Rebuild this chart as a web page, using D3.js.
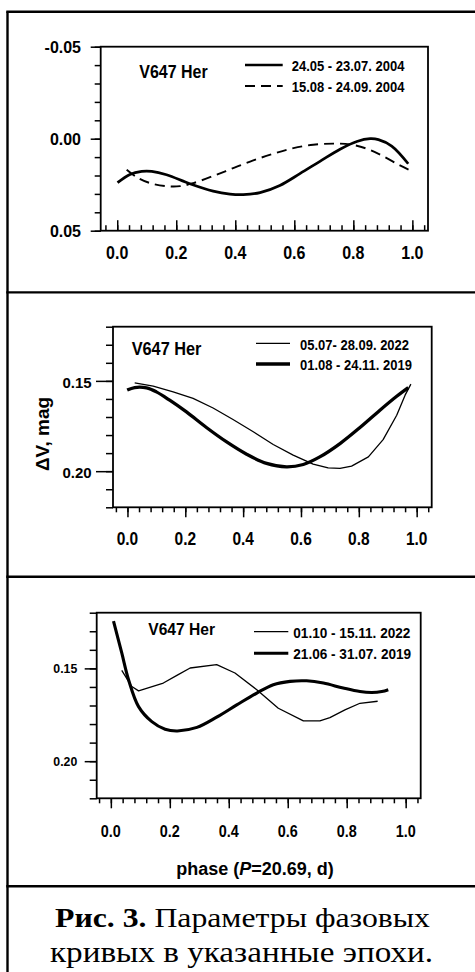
<!DOCTYPE html>
<html>
<head>
<meta charset="utf-8">
<script src="https://cdn.jsdelivr.net/npm/d3@7"></script>
<style>
  html, body { margin: 0; padding: 0; background: #fff; }
  svg { display: block; }
</style>
</head>
<body>
<svg id="chart" width="475" height="972"></svg>
<script>
// ---------------- DATA ----------------
const starName = "V647 Her";
const xMajorTicks = [0, 0.2, 0.4, 0.6, 0.8, 1.0];
const xTickLabels = ["0.0", "0.2", "0.4", "0.6", "0.8", "1.0"];
const xMinorTicks = d3.range(-0.04, 1.05, 0.04).map(v => +v.toFixed(2));

// Panel 1 (2004)
const p1YMajor = [-0.05, 0.00, 0.05];
const p1YLabels = ["-0.05", "0.00", "0.05"];
const p1YMinor = d3.range(-5, 6).map(i => i / 100);
const p1SeriesNames = ["24.05 - 23.07. 2004", "15.08 - 24.09. 2004"];
const p1SolidPhase = [0.001, 0.043, 0.083, 0.117, 0.167, 0.246, 0.325, 0.382, 0.427, 0.484, 0.551, 0.619, 0.687, 0.755, 0.812, 0.857, 0.885, 0.930, 0.986];
const p1SolidMag   = [0.0239, 0.0194, 0.0178, 0.0178, 0.0196, 0.0245, 0.0285, 0.0301, 0.0304, 0.0293, 0.0254, 0.0190, 0.0123, 0.0057, 0.0015, 0.0000, 0.0005, 0.0040, 0.0136];
const p1DashPhase  = [0.032, 0.066, 0.111, 0.167, 0.213, 0.258, 0.325, 0.393, 0.461, 0.529, 0.597, 0.664, 0.732, 0.789, 0.845, 0.902, 0.958, 0.992];
const p1DashMag    = [0.0169, 0.0209, 0.0241, 0.0258, 0.0258, 0.0241, 0.0203, 0.0160, 0.0118, 0.0082, 0.0051, 0.0033, 0.0027, 0.0031, 0.0054, 0.0096, 0.0145, 0.0172];

// Panel 2 (2022 vs 2019)
const p23YMajor = [0.15, 0.20];
const p23YLabels = ["0.15", "0.20"];
const p23YMinor = d3.range(12, 23).map(i => i / 100);
const p2SeriesNames = ["05.07- 28.09. 2022", "01.08 - 24.11. 2019"];
const p2ThinPhase  = [0.025, 0.089, 0.158, 0.227, 0.296, 0.365, 0.435, 0.504, 0.573, 0.642, 0.694, 0.735, 0.775, 0.833, 0.884, 0.931, 0.960, 0.980];
const p2ThinMag    = [0.1511, 0.1529, 0.1561, 0.1597, 0.1650, 0.1714, 0.1782, 0.1852, 0.1911, 0.1961, 0.1982, 0.1985, 0.1972, 0.1921, 0.1825, 0.1690, 0.1579, 0.1518];
const p2ThickPhase = [-0.001, 0.025, 0.066, 0.100, 0.146, 0.204, 0.273, 0.343, 0.412, 0.481, 0.550, 0.608, 0.665, 0.735, 0.804, 0.873, 0.931, 0.971];
const p2ThickMag   = [0.1551, 0.1537, 0.1539, 0.1561, 0.1607, 0.1672, 0.1758, 0.1838, 0.1906, 0.1957, 0.1976, 0.1963, 0.1921, 0.1847, 0.1758, 0.1662, 0.1585, 0.1537];

// Panel 3 (2022 vs 2019)
const p3SeriesNames = ["01.10 - 15.11. 2022", "21.06 - 31.07. 2019"];
const p3ThinPhase  = [0.037, 0.071, 0.094, 0.178, 0.224, 0.269, 0.359, 0.421, 0.495, 0.568, 0.653, 0.709, 0.743, 0.794, 0.845, 0.905];
const p3ThinMag    = [0.1511, 0.1598, 0.1621, 0.1579, 0.1538, 0.1498, 0.1480, 0.1525, 0.1615, 0.1715, 0.1783, 0.1783, 0.1765, 0.1724, 0.1688, 0.1677];
const p3ThickPhase = [0.009, 0.037, 0.060, 0.094, 0.139, 0.184, 0.226, 0.292, 0.359, 0.427, 0.495, 0.551, 0.608, 0.664, 0.721, 0.788, 0.845, 0.885, 0.919, 0.941];
const p3ThickMag   = [0.1245, 0.1417, 0.1561, 0.1706, 0.1787, 0.1828, 0.1837, 0.1818, 0.1763, 0.1697, 0.1633, 0.1588, 0.1570, 0.1567, 0.1579, 0.1606, 0.1625, 0.1630, 0.1625, 0.1615];

const yAxisTitle = "ΔV, mag";
const captionBold = "Рис. 3.";
const captionRest1 = " Параметры фазовых";
const captionLine2 = "кривых в указанные эпохи.";

// ---------------- DRAWING ----------------
const svg = d3.select("#chart");
const SANS = "'Liberation Sans', Arial, sans-serif";
const SERIF = "'Liberation Serif', 'Times New Roman', serif";

function label(g, str, x, y, o = {}) {
  const t = g.append("text")
    .attr("transform", `translate(${x},${y}) rotate(${o.rot || 0}) scale(${o.sx || 1},${o.sy || 1})`)
    .attr("font-family", o.family || SANS)
    .attr("font-weight", o.weight || "bold")
    .attr("font-size", o.size || 14)
    .attr("text-anchor", o.anchor || "start")
    .attr("fill", "#000");
  if (o.dy) t.attr("dy", o.dy);
  t.text(str);
  return t;
}

// Outer frame
const frame = svg.append("g").attr("stroke", "#000").attr("stroke-width", 2.4);
frame.append("line").attr("x1", 7.5).attr("x2", 7.5).attr("y1", 11.5).attr("y2", 972);
[11.7, 292.4, 576.8, 886.3].forEach(yy =>
  frame.append("line").attr("x1", 6.3).attr("x2", 475).attr("y1", yy).attr("y2", yy));

function panel(cfg) {
  const g = svg.append("g");
  const x = d3.scaleLinear().domain(cfg.xDomain).range([cfg.left, cfg.right]);
  const y = d3.scaleLinear().domain(cfg.yDomain).range([cfg.top, cfg.bottom]);

  const yMin = g.append("g").attr("transform", `translate(${cfg.left},0)`)
    .call(d3.axisLeft(y).tickValues(cfg.yMinor).tickSize(cfg.yMinorLen).tickSizeOuter(0).tickFormat(""));
  const yMaj = g.append("g").attr("transform", `translate(${cfg.left},0)`)
    .call(d3.axisLeft(y).tickValues(cfg.yMajor).tickSize(cfg.yMajorLen).tickSizeOuter(0).tickFormat(""));
  const xAxisFn = cfg.xInside ? d3.axisTop : d3.axisBottom;
  const xMin = g.append("g").attr("transform", `translate(0,${cfg.bottom})`)
    .call(xAxisFn(x).tickValues(xMinorTicks).tickSize(cfg.xMinorLen).tickSizeOuter(0).tickFormat(""));
  const xMaj = g.append("g").attr("transform", `translate(0,${cfg.bottom})`)
    .call(xAxisFn(x).tickValues(xMajorTicks).tickSize(cfg.xMajorLen).tickSizeOuter(0).tickFormat(""));
  [yMin, yMaj, xMin, xMaj].forEach(a => {
    a.select(".domain").remove();
    a.selectAll("line").attr("stroke", "#000").attr("stroke-width", 1.5);
  });

  g.append("rect").attr("x", cfg.left).attr("y", cfg.top)
    .attr("width", cfg.right - cfg.left).attr("height", cfg.bottom - cfg.top)
    .attr("fill", "none").attr("stroke", "#000").attr("stroke-width", 1.8);

  cfg.yMajor.forEach((v, i) => label(g, cfg.yLabels[i], cfg.left - cfg.yLabelGap, y(v) + cfg.yLabelShift,
    { size: cfg.yLabelSize, sy: cfg.yLabelSy, anchor: "end", dy: "0.358em" }));
  xMajorTicks.forEach((v, i) => label(g, xTickLabels[i], x(v), cfg.xLabelBase,
    { size: cfg.xLabelSize, sy: cfg.xLabelSy, anchor: "middle" }));

  label(g, starName, cfg.nameX, cfg.nameBase, { size: cfg.nameSize, sy: cfg.nameSy });

  cfg.series.forEach(s => {
    const pts = s.phase.map((p, i) => [p, s.mag[i]]);
    const line = d3.line().x(d => x(d[0])).y(d => y(d[1])).curve(s.curve);
    g.append("path").datum(pts).attr("d", line)
      .attr("fill", "none").attr("stroke", "#000")
      .attr("stroke-width", s.width).attr("stroke-dasharray", s.dash || null)
      .attr("stroke-linejoin", "round");
    g.append("line").attr("x1", cfg.legX1).attr("x2", cfg.legX2).attr("y1", s.legY).attr("y2", s.legY)
      .attr("stroke", "#000").attr("stroke-width", s.width).attr("stroke-dasharray", s.dash || null);
    label(g, s.name, cfg.legTextX, s.legBase, { size: cfg.legSize, sy: cfg.legSy });
  });
  return { g, x, y };
}

// Panel 1
panel({
  left: 100.7, right: 428, top: 46.7, bottom: 230.7,
  xDomain: [-0.056, 1.053], yDomain: [-0.05, 0.05],
  yMajor: p1YMajor, yLabels: p1YLabels, yMinor: p1YMinor,
  yMajorLen: 10, yMinorLen: 6, xInside: true, xMajorLen: 10.5, xMinorLen: 5.5,
  yLabelGap: 19.7, yLabelShift: 0.5, yLabelSize: 16, yLabelSy: 1.07,
  xLabelBase: 259.3, xLabelSize: 16, xLabelSy: 1.17,
  nameX: 139.3, nameBase: 78.3, nameSize: 16, nameSy: 1.1,
  legX1: 245, legX2: 282.7, legTextX: 291.7, legSize: 13, legSy: 1.07,
  series: [
    { name: p1SeriesNames[0], phase: p1SolidPhase, mag: p1SolidMag, width: 2.7, curve: d3.curveCatmullRom, legY: 65, legBase: 71 },
    { name: p1SeriesNames[1], phase: p1DashPhase, mag: p1DashMag, width: 1.9, dash: "10,6", curve: d3.curveCatmullRom, legY: 86, legBase: 91.7 }
  ]
});

// Panel 2
const P2 = panel({
  left: 113, right: 431.7, top: 326.7, bottom: 507.3,
  xDomain: [-0.05, 1.052], yDomain: [0.12, 0.22],
  yMajor: p23YMajor, yLabels: p23YLabels, yMinor: p23YMinor,
  yMajorLen: 17, yMinorLen: 7, xInside: false, xMajorLen: 10, xMinorLen: 5,
  yLabelGap: 21.3, yLabelShift: 1.5, yLabelSize: 15, yLabelSy: 1.02,
  xLabelBase: 545, xLabelSize: 15.5, xLabelSy: 1.18,
  nameX: 131.7, nameBase: 355, nameSize: 16.3, nameSy: 1.13,
  legX1: 256, legX2: 290, legTextX: 300, legSize: 13, legSy: 1.08,
  series: [
    { name: p2SeriesNames[0], phase: p2ThinPhase, mag: p2ThinMag, width: 1.3, curve: d3.curveLinear, legY: 343.3, legBase: 350 },
    { name: p2SeriesNames[1], phase: p2ThickPhase, mag: p2ThickMag, width: 3.3, curve: d3.curveCatmullRom, legY: 364, legBase: 370 }
  ]
});
label(P2.g, yAxisTitle, 49, 434, { size: 19, rot: -90, anchor: "middle", sy: 1.0 });

// Panel 3
const P3 = panel({
  left: 96.7, right: 420.7, top: 612.7, bottom: 798.3,
  xDomain: [-0.048, 1.051], yDomain: [0.12, 0.22],
  yMajor: p23YMajor, yLabels: p23YLabels, yMinor: p23YMinor,
  yMajorLen: 12, yMinorLen: 7, xInside: false, xMajorLen: 10, xMinorLen: 5,
  yLabelGap: 19.4, yLabelShift: 0.5, yLabelSize: 12.3, yLabelSy: 1.0,
  xLabelBase: 836.7, xLabelSize: 14.4, xLabelSy: 1.13,
  nameX: 148.3, nameBase: 635, nameSize: 15.6, nameSy: 1.1,
  legX1: 254, legX2: 288.3, legTextX: 293.3, legSize: 13.6, legSy: 1.1,
  series: [
    { name: p3SeriesNames[0], phase: p3ThinPhase, mag: p3ThinMag, width: 1.3, curve: d3.curveLinear, legY: 631.7, legBase: 638.3 },
    { name: p3SeriesNames[1], phase: p3ThickPhase, mag: p3ThickMag, width: 3.1, curve: d3.curveCatmullRom, legY: 653.3, legBase: 659 }
  ]
});
const xt = P3.g.append("text")
  .attr("x", 255).attr("y", 875)
  .attr("font-family", SANS).attr("font-weight", "bold").attr("font-size", 18)
  .attr("text-anchor", "middle").attr("fill", "#000");
xt.append("tspan").text("phase (");
xt.append("tspan").attr("font-style", "italic").text("P");
xt.append("tspan").text("=20.69, d)");

// Caption
const cap = svg.append("g");
const c1 = cap.append("text").attr("x", 55).attr("y", 926.7)
  .attr("font-family", SERIF).attr("font-size", 27).attr("fill", "#000")
  .attr("textLength", 375).attr("lengthAdjust", "spacingAndGlyphs");
c1.append("tspan").attr("font-weight", "bold").text(captionBold);
c1.append("tspan").text(captionRest1);
cap.append("text").attr("x", 50).attr("y", 961.5)
  .attr("font-family", SERIF).attr("font-size", 28.5).attr("fill", "#000")
  .attr("textLength", 383).attr("lengthAdjust", "spacingAndGlyphs")
  .text(captionLine2);
</script>
</body>
</html>
